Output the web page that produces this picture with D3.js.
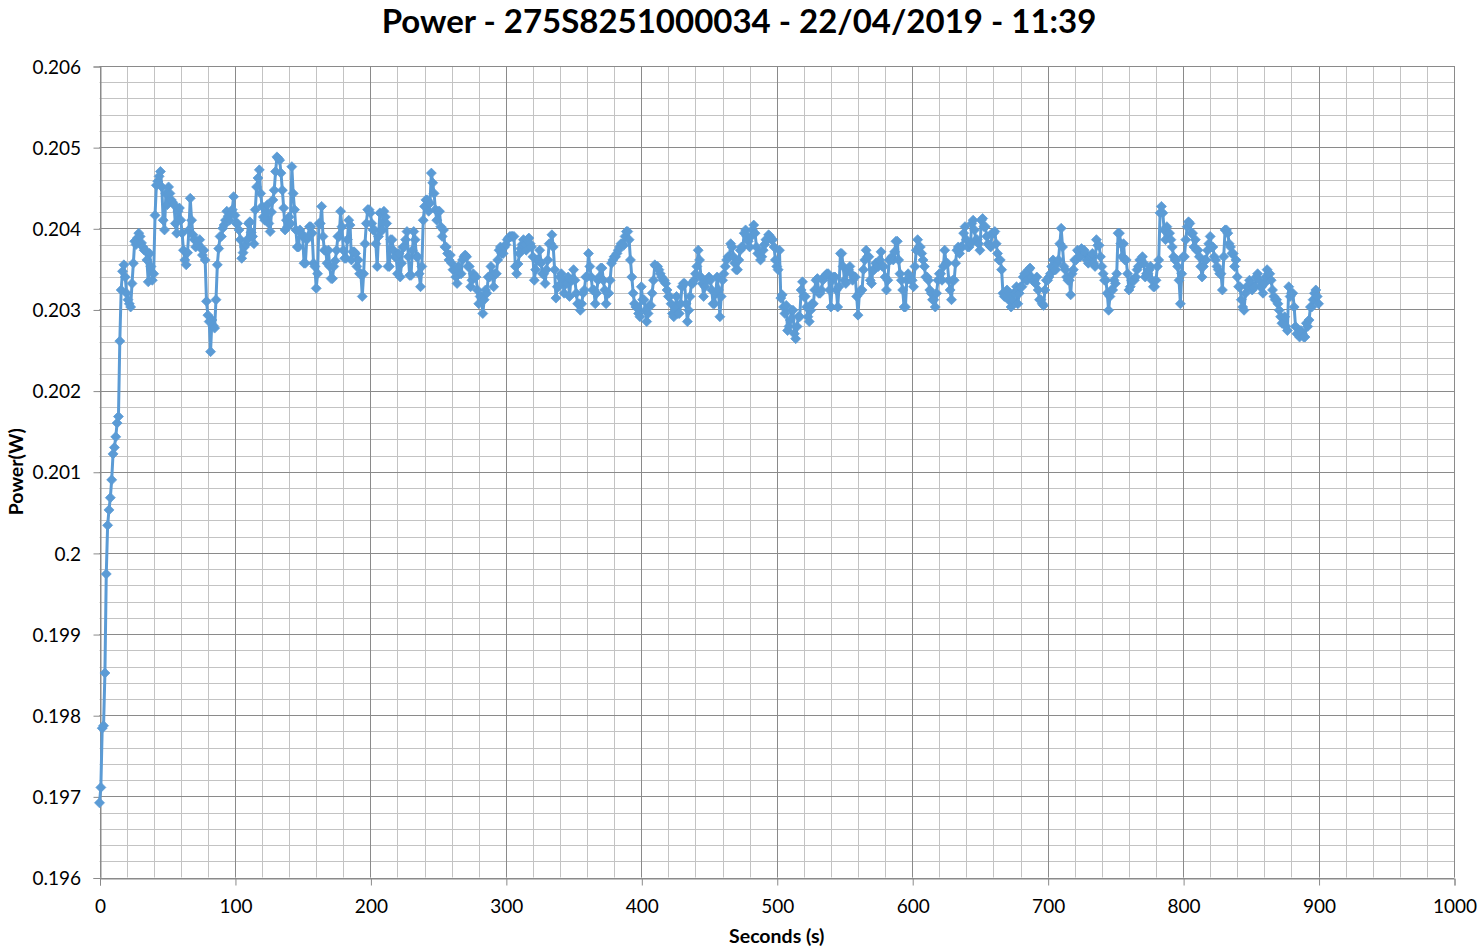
<!DOCTYPE html>
<html><head><meta charset="utf-8">
<script src="https://cdn.jsdelivr.net/npm/d3@7"></script>
<style>
body{margin:0;background:#fff}
svg{display:block}
text{font-family:Lato,"Open Sans",sans-serif;fill:#000}
</style>
</head><body>
<svg id="chart" width="1478" height="950"></svg>
<script>
const chartTitle = "Power - 275S8251000034 - 22/04/2019 - 11:39";
const xAxisTitle = "Seconds (s)";
const yAxisTitle = "Power(W)";
const xTickValues = [0,100,200,300,400,500,600,700,800,900,1000];
const yTickValues = [0.196,0.197,0.198,0.199,0.2,0.201,0.202,0.203,0.204,0.205,0.206];
const sampleStepSeconds = 1;
// power (W), one reading per second from 0 s to 900 s (10 readings per row)
const power = [
0.19692,0.19711,0.19784,0.19787,0.19852,0.19974,0.20034,0.20053,0.20068,0.20090,
0.20122,0.20130,0.20143,0.20160,0.20168,0.20261,0.20324,0.20347,0.20355,0.20340,
0.20320,0.20312,0.20307,0.20303,0.20332,0.20357,0.20384,0.20380,0.20388,0.20394,
0.20390,0.20382,0.20377,0.20373,0.20373,0.20361,0.20334,0.20369,0.20353,0.20336,
0.20344,0.20416,0.20453,0.20458,0.20464,0.20470,0.20451,0.20410,0.20398,0.20443,
0.20429,0.20451,0.20443,0.20435,0.20432,0.20429,0.20406,0.20394,0.20421,0.20425,
0.20410,0.20394,0.20373,0.20361,0.20355,0.20370,0.20398,0.20437,0.20410,0.20392,
0.20386,0.20377,0.20384,0.20380,0.20386,0.20375,0.20367,0.20373,0.20361,0.20310,
0.20293,0.20285,0.20248,0.20287,0.20280,0.20277,0.20312,0.20355,0.20375,0.20390,
0.20390,0.20400,0.20404,0.20410,0.20421,0.20415,0.20410,0.20418,0.20423,0.20439,
0.20416,0.20406,0.20406,0.20398,0.20386,0.20363,0.20370,0.20377,0.20380,0.20386,
0.20406,0.20408,0.20395,0.20390,0.20381,0.20423,0.20451,0.20462,0.20472,0.20443,
0.20427,0.20414,0.20410,0.20420,0.20429,0.20406,0.20396,0.20420,0.20435,0.20447,
0.20470,0.20488,0.20486,0.20484,0.20468,0.20447,0.20425,0.20398,0.20410,0.20402,
0.20414,0.20406,0.20476,0.20443,0.20423,0.20398,0.20377,0.20377,0.20398,0.20394,
0.20390,0.20357,0.20357,0.20386,0.20390,0.20402,0.20402,0.20394,0.20357,0.20353,
0.20326,0.20344,0.20406,0.20406,0.20427,0.20390,0.20373,0.20373,0.20357,0.20373,
0.20353,0.20338,0.20338,0.20353,0.20360,0.20373,0.20390,0.20390,0.20421,0.20402,
0.20373,0.20363,0.20363,0.20386,0.20410,0.20404,0.20361,0.20371,0.20371,0.20369,
0.20353,0.20361,0.20344,0.20344,0.20316,0.20344,0.20381,0.20406,0.20423,0.20423,
0.20419,0.20406,0.20398,0.20398,0.20381,0.20353,0.20390,0.20419,0.20398,0.20398,
0.20421,0.20414,0.20406,0.20353,0.20353,0.20386,0.20386,0.20373,0.20365,0.20365,
0.20344,0.20369,0.20340,0.20357,0.20377,0.20377,0.20386,0.20396,0.20365,0.20342,
0.20342,0.20373,0.20396,0.20386,0.20365,0.20365,0.20344,0.20328,0.20353,0.20410,
0.20427,0.20435,0.20435,0.20421,0.20431,0.20468,0.20456,0.20443,0.20423,0.20410,
0.20421,0.20421,0.20402,0.20390,0.20398,0.20377,0.20377,0.20369,0.20361,0.20367,
0.20357,0.20349,0.20349,0.20340,0.20332,0.20353,0.20344,0.20344,0.20361,0.20365,
0.20367,0.20365,0.20353,0.20353,0.20328,0.20336,0.20344,0.20340,0.20340,0.20324,
0.20307,0.20316,0.20316,0.20295,0.20312,0.20324,0.20320,0.20340,0.20340,0.20353,
0.20344,0.20328,0.20344,0.20344,0.20361,0.20373,0.20377,0.20369,0.20369,0.20377,
0.20380,0.20386,0.20388,0.20390,0.20390,0.20390,0.20390,0.20353,0.20344,0.20356,
0.20369,0.20375,0.20380,0.20386,0.20380,0.20373,0.20386,0.20388,0.20381,0.20377,
0.20365,0.20336,0.20349,0.20361,0.20361,0.20373,0.20357,0.20344,0.20344,0.20332,
0.20349,0.20361,0.20381,0.20381,0.20392,0.20377,0.20349,0.20314,0.20328,0.20328,
0.20340,0.20344,0.20336,0.20320,0.20332,0.20332,0.20340,0.20316,0.20336,0.20336,
0.20349,0.20336,0.20320,0.20307,0.20307,0.20299,0.20307,0.20320,0.20324,0.20340,
0.20340,0.20369,0.20353,0.20340,0.20324,0.20324,0.20307,0.20320,0.20336,0.20340,
0.20351,0.20351,0.20336,0.20324,0.20307,0.20320,0.20320,0.20336,0.20357,0.20361,
0.20365,0.20365,0.20369,0.20373,0.20377,0.20381,0.20381,0.20379,0.20390,0.20396,
0.20396,0.20386,0.20361,0.20340,0.20320,0.20307,0.20303,0.20303,0.20295,0.20291,
0.20328,0.20312,0.20312,0.20299,0.20285,0.20295,0.20305,0.20305,0.20320,0.20336,
0.20355,0.20353,0.20353,0.20349,0.20344,0.20340,0.20336,0.20336,0.20332,0.20324,
0.20316,0.20316,0.20307,0.20295,0.20291,0.20303,0.20316,0.20295,0.20295,0.20307,
0.20328,0.20332,0.20332,0.20307,0.20285,0.20299,0.20316,0.20332,0.20332,0.20336,
0.20344,0.20353,0.20373,0.20361,0.20340,0.20332,0.20316,0.20328,0.20336,0.20336,
0.20340,0.20336,0.20324,0.20307,0.20307,0.20320,0.20340,0.20324,0.20291,0.20316,
0.20336,0.20344,0.20353,0.20361,0.20365,0.20365,0.20381,0.20377,0.20365,0.20357,
0.20349,0.20349,0.20361,0.20373,0.20377,0.20377,0.20394,0.20398,0.20390,0.20384,
0.20377,0.20390,0.20398,0.20404,0.20394,0.20377,0.20369,0.20369,0.20361,0.20365,
0.20373,0.20380,0.20386,0.20386,0.20392,0.20390,0.20386,0.20386,0.20377,0.20361,
0.20353,0.20349,0.20373,0.20314,0.20318,0.20303,0.20295,0.20305,0.20274,0.20279,
0.20287,0.20299,0.20299,0.20270,0.20264,0.20279,0.20291,0.20291,0.20324,0.20334,
0.20316,0.20316,0.20303,0.20291,0.20285,0.20299,0.20307,0.20307,0.20324,0.20336,
0.20338,0.20320,0.20320,0.20324,0.20336,0.20340,0.20342,0.20344,0.20344,0.20324,
0.20303,0.20336,0.20340,0.20340,0.20324,0.20303,0.20328,0.20369,0.20369,0.20353,
0.20336,0.20332,0.20349,0.20349,0.20353,0.20344,0.20336,0.20340,0.20340,0.20316,
0.20293,0.20320,0.20324,0.20324,0.20349,0.20361,0.20373,0.20365,0.20365,0.20336,
0.20332,0.20349,0.20349,0.20357,0.20357,0.20353,0.20361,0.20371,0.20353,0.20353,
0.20340,0.20324,0.20336,0.20361,0.20361,0.20365,0.20361,0.20371,0.20384,0.20384,
0.20361,0.20344,0.20336,0.20324,0.20303,0.20303,0.20336,0.20344,0.20340,0.20336,
0.20336,0.20328,0.20353,0.20373,0.20386,0.20377,0.20377,0.20369,0.20361,0.20353,
0.20340,0.20340,0.20336,0.20324,0.20320,0.20312,0.20312,0.20303,0.20320,0.20336,
0.20344,0.20344,0.20336,0.20353,0.20373,0.20357,0.20357,0.20336,0.20324,0.20312,
0.20336,0.20336,0.20357,0.20373,0.20377,0.20369,0.20377,0.20377,0.20394,0.20402,
0.20386,0.20377,0.20377,0.20381,0.20406,0.20410,0.20398,0.20386,0.20386,0.20381,
0.20373,0.20410,0.20412,0.20402,0.20402,0.20390,0.20381,0.20379,0.20377,0.20394,
0.20394,0.20396,0.20381,0.20369,0.20361,0.20361,0.20349,0.20320,0.20316,0.20316,
0.20324,0.20312,0.20320,0.20303,0.20312,0.20320,0.20320,0.20328,0.20307,0.20320,
0.20328,0.20328,0.20340,0.20344,0.20336,0.20336,0.20349,0.20351,0.20340,0.20336,
0.20336,0.20332,0.20340,0.20324,0.20312,0.20312,0.20307,0.20305,0.20324,0.20336,
0.20336,0.20340,0.20344,0.20353,0.20361,0.20349,0.20349,0.20357,0.20361,0.20381,
0.20400,0.20377,0.20353,0.20349,0.20340,0.20336,0.20336,0.20318,0.20344,0.20349,
0.20361,0.20361,0.20373,0.20371,0.20365,0.20375,0.20373,0.20373,0.20369,0.20361,
0.20357,0.20365,0.20365,0.20369,0.20357,0.20353,0.20386,0.20379,0.20379,0.20365,
0.20353,0.20344,0.20336,0.20336,0.20320,0.20299,0.20316,0.20324,0.20324,0.20336,
0.20332,0.20344,0.20394,0.20394,0.20381,0.20365,0.20381,0.20361,0.20361,0.20344,
0.20324,0.20328,0.20336,0.20336,0.20336,0.20340,0.20349,0.20353,0.20361,0.20361,
0.20365,0.20357,0.20340,0.20344,0.20344,0.20349,0.20353,0.20336,0.20328,0.20328,
0.20336,0.20353,0.20361,0.20419,0.20427,0.20419,0.20398,0.20386,0.20402,0.20394,
0.20394,0.20386,0.20377,0.20365,0.20361,0.20361,0.20353,0.20336,0.20307,0.20344,
0.20365,0.20365,0.20386,0.20402,0.20408,0.20406,0.20394,0.20394,0.20377,0.20386,
0.20373,0.20373,0.20365,0.20353,0.20340,0.20353,0.20361,0.20361,0.20373,0.20381,
0.20390,0.20377,0.20377,0.20365,0.20361,0.20353,0.20349,0.20344,0.20344,0.20324,
0.20365,0.20398,0.20398,0.20394,0.20381,0.20377,0.20369,0.20369,0.20353,0.20361,
0.20340,0.20328,0.20328,0.20312,0.20303,0.20299,0.20320,0.20328,0.20328,0.20336,
0.20332,0.20324,0.20328,0.20328,0.20340,0.20344,0.20336,0.20328,0.20328,0.20320,
0.20332,0.20340,0.20349,0.20344,0.20344,0.20336,0.20324,0.20316,0.20312,0.20312,
0.20307,0.20299,0.20291,0.20283,0.20283,0.20291,0.20279,0.20274,0.20328,0.20316,
0.20320,0.20320,0.20303,0.20279,0.20270,0.20270,0.20266,0.20274,0.20270,0.20266,
0.20266,0.20283,0.20279,0.20287,0.20303,0.20303,0.20312,0.20320,0.20324,0.20316,
0.20307
];
const seconds = power.map((_, i) => i * sampleStepSeconds);

const svg = d3.select("#chart");
const plot = {left: 99.5, right: 1454, top: 66, bottom: 877.5};
const x = d3.scaleLinear().domain([0, 1000]).range([plot.left, plot.right]);
const y = d3.scaleLinear().domain([0.196, 0.206]).range([plot.bottom, plot.top]);

const minorColor = "#c3c3c3", majorColor = "#8a8a8a";
const tickFont = "19px", titleFont = "19.5px";

// minor grid
const gMinor = svg.append("g");
gMinor.selectAll("line.vx").data(d3.range(0, 1001, 20)).join("line")
  .attr("x1", d => Math.round(x(d)) + 0.5).attr("x2", d => Math.round(x(d)) + 0.5)
  .attr("y1", plot.top).attr("y2", plot.bottom)
  .attr("stroke", minorColor).attr("stroke-width", 1);
gMinor.selectAll("line.hy").data(d3.range(0, 51).map(i => 0.196 + i * 0.0002)).join("line")
  .attr("y1", d => Math.round(y(d)) + 0.5).attr("y2", d => Math.round(y(d)) + 0.5)
  .attr("x1", plot.left).attr("x2", plot.right)
  .attr("stroke", minorColor).attr("stroke-width", 1);

// major grid
const gMajor = svg.append("g");
gMajor.selectAll("line.vx").data(xTickValues).join("line")
  .attr("x1", d => Math.round(x(d)) + 0.5).attr("x2", d => Math.round(x(d)) + 0.5)
  .attr("y1", plot.top).attr("y2", plot.bottom)
  .attr("stroke", majorColor).attr("stroke-width", 1);
gMajor.selectAll("line.hy").data(yTickValues).join("line")
  .attr("y1", d => Math.round(y(d)) + 0.5).attr("y2", d => Math.round(y(d)) + 0.5)
  .attr("x1", plot.left).attr("x2", plot.right)
  .attr("stroke", majorColor).attr("stroke-width", 1);

// axes
const xAxis = svg.append("g").attr("transform", `translate(0.5,${Math.round(plot.bottom) + 0.5})`)
  .call(d3.axisBottom(x).tickValues(xTickValues).tickSize(7).tickFormat(d => String(d)));
xAxis.select(".domain").attr("stroke", majorColor);
xAxis.selectAll(".tick line").attr("stroke", majorColor);
xAxis.selectAll(".tick text").attr("y", 27.5).attr("dy", "0.35em")
  .style("font-family", "Lato").style("font-size", tickFont).attr("fill", "#000");

const yAxis = svg.append("g").attr("transform", `translate(${Math.round(plot.left) + 0.5},0.5)`)
  .call(d3.axisLeft(y).tickValues(yTickValues).tickSize(7).tickFormat(d => String(d)));
yAxis.select(".domain").attr("stroke", majorColor);
yAxis.selectAll(".tick line").attr("stroke", majorColor);
yAxis.selectAll(".tick text").attr("x", -19.5).attr("dy", "0.35em")
  .style("font-family", "Lato").style("font-size", tickFont).attr("fill", "#000");

// series
const series = seconds.map((s, i) => ({s, p: power[i]}));
const lineGen = d3.line().x(d => x(d.s)).y(d => y(d.p));
svg.append("path").datum(series)
  .attr("d", lineGen).attr("fill", "none")
  .attr("stroke", "#5b9bd5").attr("stroke-width", 3).attr("stroke-linejoin", "round");
const r = 5;
svg.append("g").selectAll("path").data(series).join("path")
  .attr("d", `M0,${-r}L${r},0L0,${r}L${-r},0Z`)
  .attr("transform", d => `translate(${x(d.s)},${y(d.p)})`)
  .attr("fill", "#5b9bd5").attr("stroke", "#5b9bd5").attr("stroke-width", 0.75);

// titles
svg.append("text").attr("x", 739).attr("y", 33).attr("text-anchor", "middle")
  .style("font-size", "33px").style("font-weight", "bold").text(chartTitle);
svg.append("text").attr("x", (plot.left + plot.right) / 2).attr("y", 943).attr("text-anchor", "middle")
  .style("font-size", titleFont).style("font-weight", "bold").text(xAxisTitle);
svg.append("text").attr("transform", `translate(23,${(plot.top + plot.bottom) / 2}) rotate(-90)`)
  .attr("text-anchor", "middle")
  .style("font-size", titleFont).style("font-weight", "bold").text(yAxisTitle);
</script>
</body></html>
